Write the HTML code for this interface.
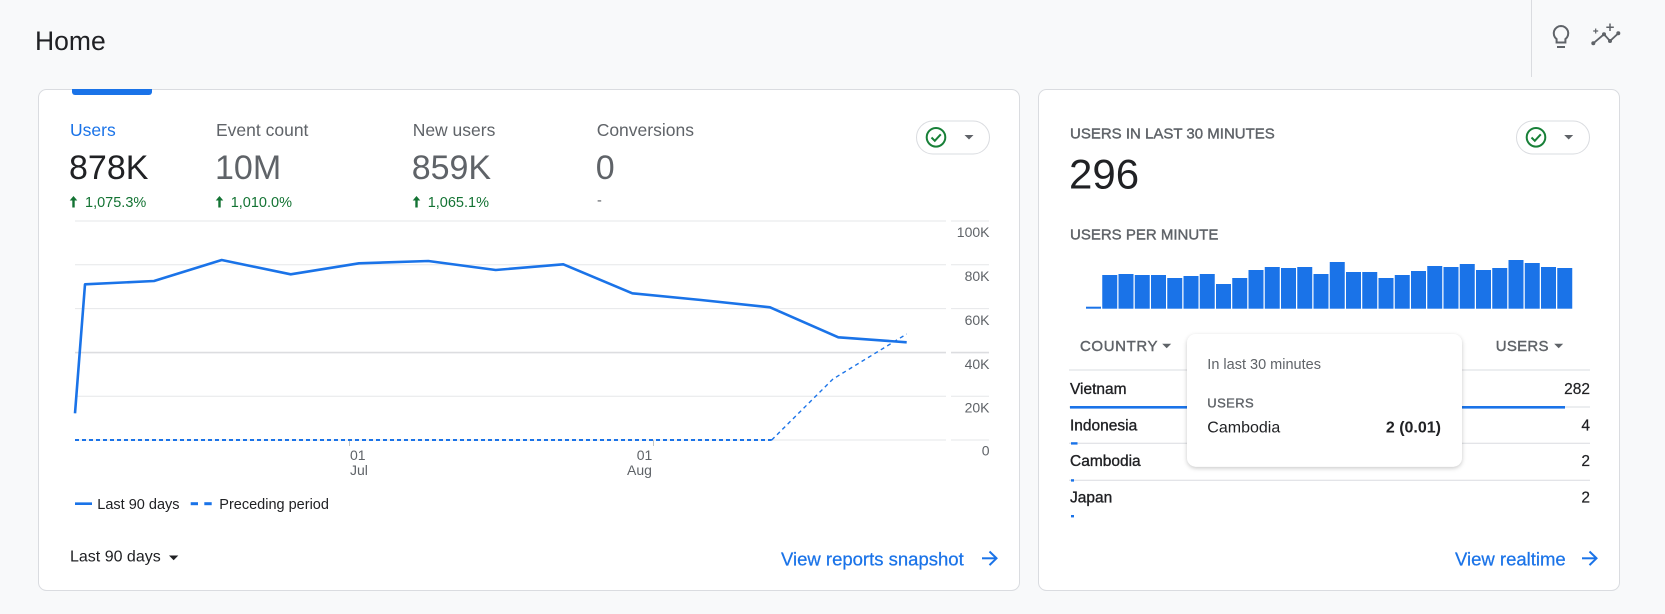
<!DOCTYPE html>
<html>
<head>
<meta charset="utf-8">
<style>
  html,body{margin:0;padding:0;background:#f8f9fa;}
  body{width:1665px;height:614px;overflow:hidden;}
  svg{display:block;}
  text{font-family:"Liberation Sans", Arial, sans-serif;}
</style>
</head>
<body>
<svg width="1665" height="614" viewBox="0 0 1665 614" xmlns="http://www.w3.org/2000/svg">
  <defs>
    <filter id="sh" x="-10%" y="-10%" width="120%" height="130%">
      <feDropShadow dx="0" dy="1.5" stdDeviation="2" flood-color="#000" flood-opacity="0.22"/>
    </filter>
  </defs>
  <rect x="0" y="0" width="1665" height="614" fill="#f8f9fa"/>

  <!-- Header -->
  <text x="35" y="50" font-size="26.5" fill="#202124">Home</text>
  <line x1="1531.5" y1="0" x2="1531.5" y2="77" stroke="#dadce0" stroke-width="1"/>
  <!-- lightbulb -->
  <path d="M1561 26 a7.3 7.3 0 0 0 -4.4 13.1 V42.5 h8.8 v-3.4 A7.3 7.3 0 0 0 1561 26 Z" fill="none" stroke="#5f6368" stroke-width="2"/>
  <line x1="1557" y1="47" x2="1565" y2="47" stroke="#5f6368" stroke-width="2"/>
  <!-- insights -->
  <polyline points="1593.3,43.3 1604,34.3 1610,41 1618.3,33.3" fill="none" stroke="#5f6368" stroke-width="1.8"/>
  <circle cx="1593.3" cy="43.3" r="2" fill="#5f6368"/>
  <circle cx="1604" cy="34.3" r="2" fill="#5f6368"/>
  <circle cx="1610" cy="41" r="2" fill="#5f6368"/>
  <circle cx="1618.3" cy="33.3" r="2" fill="#5f6368"/>
  <path d="M1595.7 28.5 v5 M1593.2 31 h5" stroke="#5f6368" stroke-width="1.2"/>
  <path d="M1610 23.5 v7.5 M1606.3 27.3 h7.5" stroke="#5f6368" stroke-width="1.5"/>

  <!-- LEFT CARD -->
  <rect x="38.5" y="89.5" width="981" height="501" rx="8" fill="#fff" stroke="#dadce0"/>
  <path d="M72 89 h80 v3 a3 3 0 0 1 -3 3 h-74 a3 3 0 0 1 -3 -3 Z" fill="#1a73e8"/>

  <!-- metrics -->
  <text x="70" y="136" font-size="17.5" fill="#1a73e8">Users</text>
  <text x="216" y="136" font-size="17.5" fill="#5f6368">Event count</text>
  <text x="412.7" y="136" font-size="17.5" fill="#5f6368">New users</text>
  <text x="596.7" y="136" font-size="17.5" fill="#5f6368">Conversions</text>

  <text x="69" y="179" font-size="34" fill="#202124">878K</text>
  <text x="215" y="179" font-size="34" fill="#5f6368">10M</text>
  <text x="411.7" y="179" font-size="34" fill="#5f6368">859K</text>
  <text x="595.7" y="179" font-size="34" fill="#5f6368">0</text>

  <g fill="#137333">
    <path d="M73.5 196 l-3.8 4.5 h2.6 v7 h2.4 v-7 h2.6 Z"/>
    <path d="M219.5 196 l-3.8 4.5 h2.6 v7 h2.4 v-7 h2.6 Z"/>
    <path d="M416.5 196 l-3.8 4.5 h2.6 v7 h2.4 v-7 h2.6 Z"/>
  </g>
  <text x="85" y="207" font-size="14.5" fill="#137333">1,075.3%</text>
  <text x="230.7" y="207" font-size="14.5" fill="#137333">1,010.0%</text>
  <text x="427.7" y="207" font-size="14.5" fill="#137333">1,065.1%</text>
  <text x="597" y="205" font-size="14.5" fill="#5f6368">-</text>

  <!-- pill left -->
  <rect x="916.5" y="121" width="73" height="33" rx="16.5" fill="#fff" stroke="#dadce0"/>
  <circle cx="936" cy="137.3" r="9.3" fill="none" stroke="#188038" stroke-width="2"/>
  <polyline points="931.5,137.5 934.8,140.8 940.8,134.3" fill="none" stroke="#188038" stroke-width="2"/>
  <path d="M964.5 135 h9 l-4.5 4.5 Z" fill="#5f6368"/>

  <!-- chart grid -->
  <g stroke="#e6e7e9" stroke-width="1">
    <line x1="75" y1="221" x2="946" y2="221"/><line x1="951" y1="221" x2="989" y2="221"/>
    <line x1="75" y1="264.8" x2="946" y2="264.8"/><line x1="951" y1="264.8" x2="989" y2="264.8"/>
    <line x1="75" y1="308.6" x2="946" y2="308.6"/><line x1="951" y1="308.6" x2="989" y2="308.6"/>
    <line x1="75" y1="396.2" x2="946" y2="396.2"/><line x1="951" y1="396.2" x2="989" y2="396.2"/>
    <line x1="75" y1="440" x2="946" y2="440"/><line x1="951" y1="440" x2="989" y2="440"/>
  </g>
  <g stroke="#dcdde0" stroke-width="1.6">
    <line x1="75" y1="352.6" x2="946" y2="352.6"/><line x1="951" y1="352.6" x2="989" y2="352.6"/>
  </g>
  <g font-size="14" fill="#5f6368" text-anchor="end">
    <text x="989.5" y="237">100K</text>
    <text x="989.5" y="281">80K</text>
    <text x="989.5" y="325">60K</text>
    <text x="989.5" y="369">40K</text>
    <text x="989.5" y="412.5">20K</text>
    <text x="989.5" y="455.5">0</text>
  </g>
  <!-- x ticks -->
  <line x1="349.5" y1="440" x2="349.5" y2="446" stroke="#c4c7c5"/>
  <line x1="653.5" y1="440" x2="653.5" y2="446" stroke="#c4c7c5"/>
  <g font-size="14" fill="#5f6368">
    <text x="350" y="460">01</text>
    <text x="350" y="475">Jul</text>
    <text x="636.7" y="460">01</text>
    <text x="627" y="475">Aug</text>
  </g>

  <!-- series -->
  <polyline points="75,440 771.7,440" fill="none" stroke="#1a73e8" stroke-width="2" stroke-dasharray="4,3"/>
  <polyline points="771.7,440 833,379 906.7,334" fill="none" stroke="#1a73e8" stroke-width="1.4" stroke-dasharray="4,3.5"/>
  <polyline points="75,413.3 85,284.3 154,281 221.7,260 290.7,274.3 359,263.3 428.3,261 495.7,270 563.3,264.3 632.3,293.3 701,300 770,307.3 838.3,337.3 906.7,342.3" fill="none" stroke="#1a73e8" stroke-width="2.6" stroke-linejoin="round"/>

  <!-- legend -->
  <line x1="75" y1="503.7" x2="92" y2="503.7" stroke="#1a73e8" stroke-width="2.6"/>
  <text x="97.3" y="509" font-size="14.5" fill="#202124">Last 90 days</text>
  <line x1="190.7" y1="503.7" x2="198" y2="503.7" stroke="#1a73e8" stroke-width="3"/>
  <line x1="204.3" y1="503.7" x2="211.7" y2="503.7" stroke="#1a73e8" stroke-width="3"/>
  <text x="219.3" y="509" font-size="14.5" fill="#202124">Preceding period</text>

  <!-- footer left -->
  <text x="70" y="561.7" font-size="16" fill="#202124">Last 90 days</text>
  <path d="M169 555.5 h9.3 l-4.65 4.8 Z" fill="#202124"/>
  <text x="781" y="565.3" font-size="18.5" fill="#1a73e8" stroke="#1a73e8" stroke-width="0.25">View reports snapshot</text>
  <g stroke="#1a73e8" stroke-width="2" fill="none">
    <line x1="982" y1="558.3" x2="996" y2="558.3"/>
    <polyline points="989.5,551.5 996.5,558.3 989.5,565.1"/>
  </g>

  <!-- RIGHT CARD -->
  <rect x="1038.5" y="89.5" width="581" height="501" rx="8" fill="#fff" stroke="#dadce0"/>
  <text x="1070" y="138.3" font-size="15" fill="#5f6368" stroke="#5f6368" stroke-width="0.4">USERS IN LAST 30 MINUTES</text>
  <text x="1069" y="188.3" font-size="42" fill="#202124">296</text>
  <text x="1070" y="239.3" font-size="15" fill="#5f6368" stroke="#5f6368" stroke-width="0.4">USERS PER MINUTE</text>

  <rect x="1516.5" y="121" width="73" height="33" rx="16.5" fill="#fff" stroke="#dadce0"/>
  <circle cx="1536" cy="137.3" r="9.3" fill="none" stroke="#188038" stroke-width="2"/>
  <polyline points="1531.5,137.5 1534.8,140.8 1540.8,134.3" fill="none" stroke="#188038" stroke-width="2"/>
  <path d="M1564.2 135 h9 l-4.5 4.5 Z" fill="#5f6368"/>

  <!-- bars -->
  <g fill="#1a73e8">
    <rect x="1086" y="306.7" width="15" height="2"/>
    <rect x="1102.25" y="275" width="15" height="33.7"/>
    <rect x="1118.5" y="274" width="15" height="34.7"/>
    <rect x="1134.75" y="275" width="15" height="33.7"/>
    <rect x="1151" y="275" width="15" height="33.7"/>
    <rect x="1167.25" y="278" width="15" height="30.7"/>
    <rect x="1183.5" y="276" width="15" height="32.7"/>
    <rect x="1199.75" y="274" width="15" height="34.7"/>
    <rect x="1216" y="284" width="15" height="24.7"/>
    <rect x="1232.25" y="278" width="15" height="30.7"/>
    <rect x="1248.5" y="270" width="15" height="38.7"/>
    <rect x="1264.75" y="267" width="15" height="41.7"/>
    <rect x="1281" y="268" width="15" height="40.7"/>
    <rect x="1297.25" y="267" width="15" height="41.7"/>
    <rect x="1313.5" y="274" width="15" height="34.7"/>
    <rect x="1329.75" y="262" width="15" height="46.7"/>
    <rect x="1346" y="272" width="15" height="36.7"/>
    <rect x="1362.25" y="272" width="15" height="36.7"/>
    <rect x="1378.5" y="278" width="15" height="30.7"/>
    <rect x="1394.75" y="275" width="15" height="33.7"/>
    <rect x="1411" y="271" width="15" height="37.7"/>
    <rect x="1427.25" y="266" width="15" height="42.7"/>
    <rect x="1443.5" y="267" width="15" height="41.7"/>
    <rect x="1459.75" y="264" width="15" height="44.7"/>
    <rect x="1476" y="270" width="15" height="38.7"/>
    <rect x="1492.25" y="268" width="15" height="40.7"/>
    <rect x="1508.5" y="260" width="15" height="48.7"/>
    <rect x="1524.75" y="263" width="15" height="45.7"/>
    <rect x="1541" y="267" width="15" height="41.7"/>
    <rect x="1557.25" y="268" width="15" height="40.7"/>
  </g>

  <!-- table -->
  <text x="1080" y="351" font-size="15" fill="#5f6368" stroke="#5f6368" stroke-width="0.4" letter-spacing="0.6">COUNTRY</text>
  <path d="M1162.2 343.8 h9 l-4.5 4.5 Z" fill="#5f6368"/>
  <text x="1495.7" y="351" font-size="15" fill="#5f6368" stroke="#5f6368" stroke-width="0.4" letter-spacing="0.3">USERS</text>
  <path d="M1554.2 343.8 h9 l-4.5 4.5 Z" fill="#5f6368"/>
  <g stroke="#dadce0" stroke-width="1">
    <line x1="1069" y1="370" x2="1590" y2="370"/>
    <line x1="1069" y1="407" x2="1590" y2="407"/>
    <line x1="1069" y1="443.3" x2="1590" y2="443.3"/>
    <line x1="1069" y1="480.3" x2="1590" y2="480.3"/>
  </g>
  <g font-size="15.5" fill="#202124" stroke="#202124" stroke-width="0.35">
    <text x="1070" y="394">Vietnam</text>
    <text x="1070" y="430.7">Indonesia</text>
    <text x="1070" y="466">Cambodia</text>
    <text x="1070" y="502.7">Japan</text>
  </g>
  <g font-size="15.5" fill="#202124" text-anchor="end" stroke="#202124" stroke-width="0.2">
    <text x="1590" y="394">282</text>
    <text x="1590" y="430.7">4</text>
    <text x="1590" y="466">2</text>
    <text x="1590" y="502.7">2</text>
  </g>
  <g fill="#1a73e8">
    <rect x="1070" y="406" width="495" height="2.6"/>
    <rect x="1071" y="442.2" width="6.5" height="2.4"/>
    <rect x="1071" y="479.2" width="3" height="2.4"/>
    <rect x="1071" y="515" width="3" height="2.4"/>
  </g>

  <!-- tooltip -->
  <rect x="1187" y="334" width="275" height="132.7" rx="9" fill="#fff" filter="url(#sh)"/>
  <text x="1207.3" y="369" font-size="14.5" fill="#5f6368">In last 30 minutes</text>
  <text x="1207.3" y="407.3" font-size="13" fill="#5f6368" stroke="#5f6368" stroke-width="0.35" letter-spacing="0.4">USERS</text>
  <text x="1207.3" y="432.7" font-size="16" fill="#202124">Cambodia</text>
  <text x="1441" y="432.7" font-size="16" font-weight="bold" fill="#202124" text-anchor="end">2 (0.01)</text>

  <!-- footer right -->
  <text x="1455" y="565.3" font-size="18.5" fill="#1a73e8" stroke="#1a73e8" stroke-width="0.25">View realtime</text>
  <g stroke="#1a73e8" stroke-width="2" fill="none">
    <line x1="1582" y1="558.3" x2="1596" y2="558.3"/>
    <polyline points="1589.5,551.5 1596.5,558.3 1589.5,565.1"/>
  </g>
</svg>
</body>
</html>
